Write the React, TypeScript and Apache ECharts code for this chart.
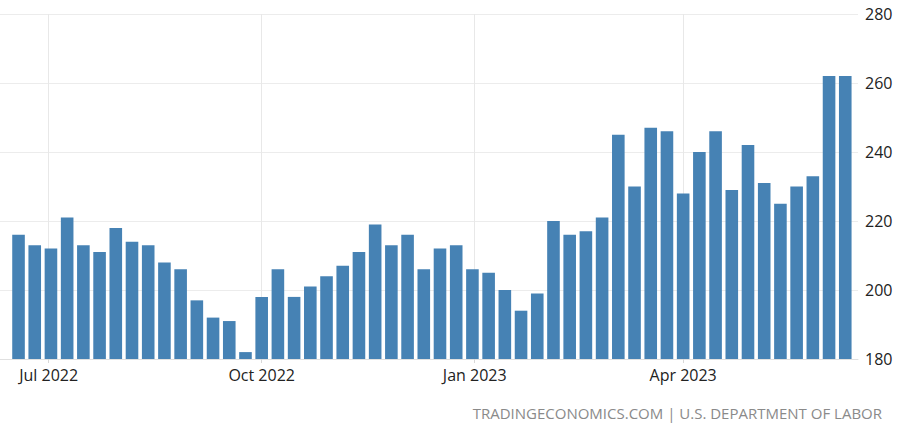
import React, { useEffect, useRef } from "react";
import * as echarts from "echarts";

const weekEnding: string[] = [
  "2022-06-18", "2022-06-25", "2022-07-02", "2022-07-09", "2022-07-16", "2022-07-23", "2022-07-30",
  "2022-08-06", "2022-08-13", "2022-08-20", "2022-08-27", "2022-09-03", "2022-09-10", "2022-09-17",
  "2022-09-24", "2022-10-01", "2022-10-08", "2022-10-15", "2022-10-22", "2022-10-29", "2022-11-05",
  "2022-11-12", "2022-11-19", "2022-11-26", "2022-12-03", "2022-12-10", "2022-12-17", "2022-12-24",
  "2022-12-31", "2023-01-07", "2023-01-14", "2023-01-21", "2023-01-28", "2023-02-04", "2023-02-11",
  "2023-02-18", "2023-02-25", "2023-03-04", "2023-03-11", "2023-03-18", "2023-03-25", "2023-04-01",
  "2023-04-08", "2023-04-15", "2023-04-22", "2023-04-29", "2023-05-06", "2023-05-13", "2023-05-20",
  "2023-05-27", "2023-06-03", "2023-06-10",
];

const claims: number[] = [
  216, 213, 212, 221, 213, 211, 218, 214, 213, 208, 206, 197, 192, 191, 182, 198, 206, 198,
  201, 204, 207, 211, 219, 213, 216, 206, 212, 213, 206, 205, 200, 194, 199, 220, 216, 217,
  221, 245, 230, 247, 246, 228, 240, 246, 229, 242, 231, 225, 230, 233, 262, 262,
];

const quarterTicks: string[] = ["2022-07-01", "2022-10-01", "2023-01-01", "2023-04-01"];
const yTicks: number[] = [180, 200, 220, 240, 260, 280];
const monthNames = ["Jan", "Feb", "Mar", "Apr", "May", "Jun", "Jul", "Aug", "Sep", "Oct", "Nov", "Dec"];
const sourceText = "TRADINGECONOMICS.COM | U.S. DEPARTMENT OF LABOR";

const ts = (s: string) => {
  const [y, m, d] = s.split("-").map(Number);
  return Date.UTC(y, m - 1, d);
};

export default function App() {
  const ref = useRef<HTMLDivElement>(null);
  useEffect(() => {
    if (!ref.current) return;
    const chart = echarts.init(ref.current, undefined, { renderer: "svg" });
    const font = "'Open Sans', sans-serif";
    const qt = quarterTicks.map(ts);
    chart.setOption({
      animation: false,
      grid: { left: 0, right: 42, top: 14, bottom: 72, containLabel: false },
      xAxis: {
        type: "value",
        min: ts("2022-06-10"),
        max: ts("2023-06-15") + 12 * 3600 * 1000,
        axisLine: { show: true, lineStyle: { color: "#e0e0e0" } },
        axisTick: {
          show: true,
          length: 4,
          lineStyle: { color: "#d8d8d8" },
          customValues: qt,
        },
        axisLabel: {
          customValues: qt,
          margin: 8,
          fontSize: 16,
          fontFamily: font,
          color: "#222",
          formatter: (v: number) => {
            const d = new Date(v);
            return monthNames[d.getUTCMonth()] + " " + d.getUTCFullYear();
          },
        },
        splitLine: { show: true, lineStyle: { color: "#e8e8e8", width: 1 } },
      },
      yAxis: {
        type: "value",
        position: "right",
        min: yTicks[0],
        max: yTicks[yTicks.length - 1],
        interval: 20,
        axisLine: { show: false },
        axisTick: { show: false },
        axisLabel: { margin: 7, fontSize: 16, fontFamily: font, color: "#222" },
        splitLine: { show: true, lineStyle: { color: "#ececec", width: 1 } },
      },
      series: [
        {
          type: "bar",
          barWidth: 12.6,
          data: weekEnding.map((d, i) => [ts(d), claims[i]]),
          itemStyle: { color: "#4682b4" },
        },
      ],
      graphic: [
        {
          type: "text",
          right: 18,
          top: 405,
          style: { text: sourceText, fontSize: 15, fontFamily: font, fill: "#8a8a8a" },
        },
      ],
    });
    return () => chart.dispose();
  }, []);
  return (
    <div
      ref={ref}
      style={{ position: "fixed", left: 0, top: 0, width: 900, height: 431, background: "#fff" }}
    />
  );
}
